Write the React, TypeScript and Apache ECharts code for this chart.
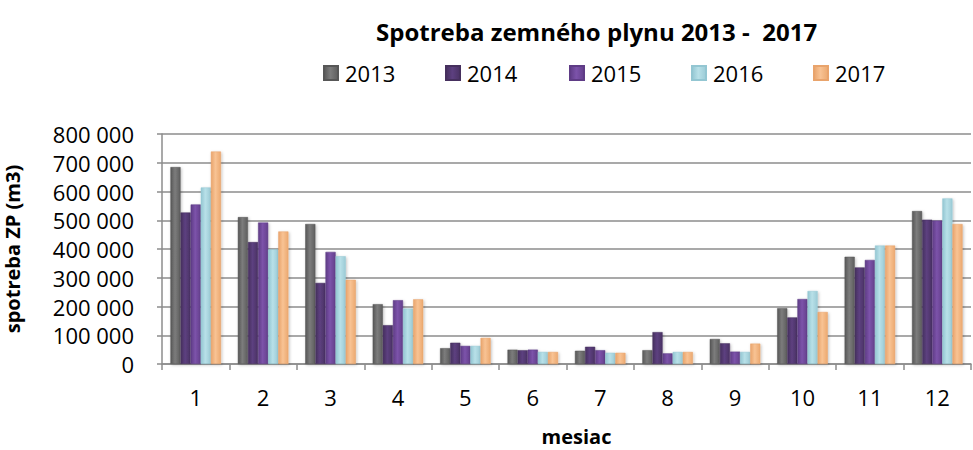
import React, { useEffect, useRef } from "react";
import * as echarts from "echarts";

const months = ["1", "2", "3", "4", "5", "6", "7", "8", "9", "10", "11", "12"];
const years = ["2013", "2014", "2015", "2016", "2017"];
const v2013 = [685000, 511000, 487000, 208000, 55000, 50000, 46000, 48000, 87000, 194000, 373000, 532000];
const v2014 = [527000, 424000, 282000, 135000, 74000, 48000, 60000, 111000, 72000, 162000, 336000, 502000];
const v2015 = [555000, 492000, 390000, 222000, 63000, 50000, 48000, 37000, 43000, 226000, 362000, 499000];
const v2016 = [614000, 399000, 375000, 193000, 63000, 42000, 39000, 42000, 42000, 254000, 412000, 576000];
const v2017 = [739000, 461000, 293000, 225000, 91000, 42000, 39000, 42000, 71000, 181000, 412000, 487000];
const yTicks = [0, 100000, 200000, 300000, 400000, 500000, 600000, 700000, 800000];

const seriesValues = [v2013, v2014, v2015, v2016, v2017];
const palette = [
  ["#575757", "#7c7c7c", "#5e5e5e"],
  ["#46305e", "#5d4080", "#4a3264"],
  ["#5f3c86", "#7c53aa", "#643f8c"],
  ["#93c6d2", "#b8e0e8", "#9ccbd6"],
  ["#e9a46c", "#f8c394", "#eca970"],
];
const legendLeft = [323, 445, 569, 691, 813];

function grad(c: string[]) {
  return new echarts.graphic.LinearGradient(0, 0, 1, 0, [
    { offset: 0, color: c[0] },
    { offset: 0.45, color: c[1] },
    { offset: 1, color: c[2] },
  ]);
}

const fmt = (v: number) => String(v).replace(/\B(?=(\d{3})+(?!\d))/g, " ");

export default function App() {
  const ref = useRef<HTMLDivElement>(null);
  useEffect(() => {
    if (!ref.current) return;
    const chart = echarts.init(ref.current, null, { renderer: "svg" });
    const font = "'Open Sans', sans-serif";
    chart.setOption({
      animation: false,
      backgroundColor: "#ffffff",
      textStyle: { fontFamily: font },
      title: {
        text: "Spotreba zemného plynu 2013 -  2017",
        left: 371,
        top: 14,
        textStyle: { fontFamily: font, fontWeight: "bold", fontSize: 24, color: "#000" },
      },
      legend: years.map((y, i) => ({
        data: [y],
        left: legendLeft[i],
        top: 62,
        icon: "rect",
        itemWidth: 14,
        itemHeight: 14,
        itemGap: 0,
        padding: 0,
        textStyle: { fontFamily: font, fontSize: 22, color: "#000", padding: [0, 0, 0, 2] },
      })),
      grid: { left: 162, right: 2, top: 134, bottom: 86, containLabel: false, outerBoundsMode: "none" },
      xAxis: {
        type: "category",
        data: months,
        name: "mesiac",
        nameLocation: "middle",
        nameGap: 62,
        nameTextStyle: { fontFamily: font, fontWeight: "bold", fontSize: 20, color: "#000", padding: [0, 0, 0, 20] },
        axisLine: { lineStyle: { color: "#8c8c8c", width: 1.5 } },
        axisTick: { show: true, length: 6, lineStyle: { color: "#8c8c8c", width: 1.5 } },
        axisLabel: { fontFamily: font, fontSize: 22, color: "#000", margin: 22 },
      },
      yAxis: {
        type: "value",
        min: 0,
        max: 800000,
        interval: 100000,
        name: "spotreba ZP (m3)",
        nameLocation: "middle",
        nameGap: 140,
        nameRotate: 90,
        nameTextStyle: { fontFamily: font, fontWeight: "bold", fontSize: 20, color: "#000" },
        axisLine: { show: true, lineStyle: { color: "#8c8c8c", width: 1.5 } },
        axisTick: { show: true, length: 5, lineStyle: { color: "#8c8c8c", width: 1.5 } },
        splitLine: { lineStyle: { color: "#8c8c8c", width: 1.5 } },
        axisLabel: {
          fontFamily: font,
          fontSize: 22,
          color: "#000",
          margin: 28,
          formatter: (v: number) => (yTicks.includes(v) ? fmt(v) : ""),
        },
      },
      series: years.map((y, i) => ({
        name: y,
        type: "bar",
        data: seriesValues[i],
        barGap: "0%",
        barCategoryGap: "25%",
        itemStyle: {
          color: grad(palette[i]),
          borderColor: palette[i][0],
          borderWidth: 0.5,
          shadowColor: "rgba(0,0,0,0.25)",
          shadowBlur: 3,
          shadowOffsetX: 1,
          shadowOffsetY: 1,
        },
      })),
    });
    return () => chart.dispose();
  }, []);
  return <div ref={ref} style={{ position: "fixed", left: 0, top: 0, width: 973, height: 450 }} />;
}
